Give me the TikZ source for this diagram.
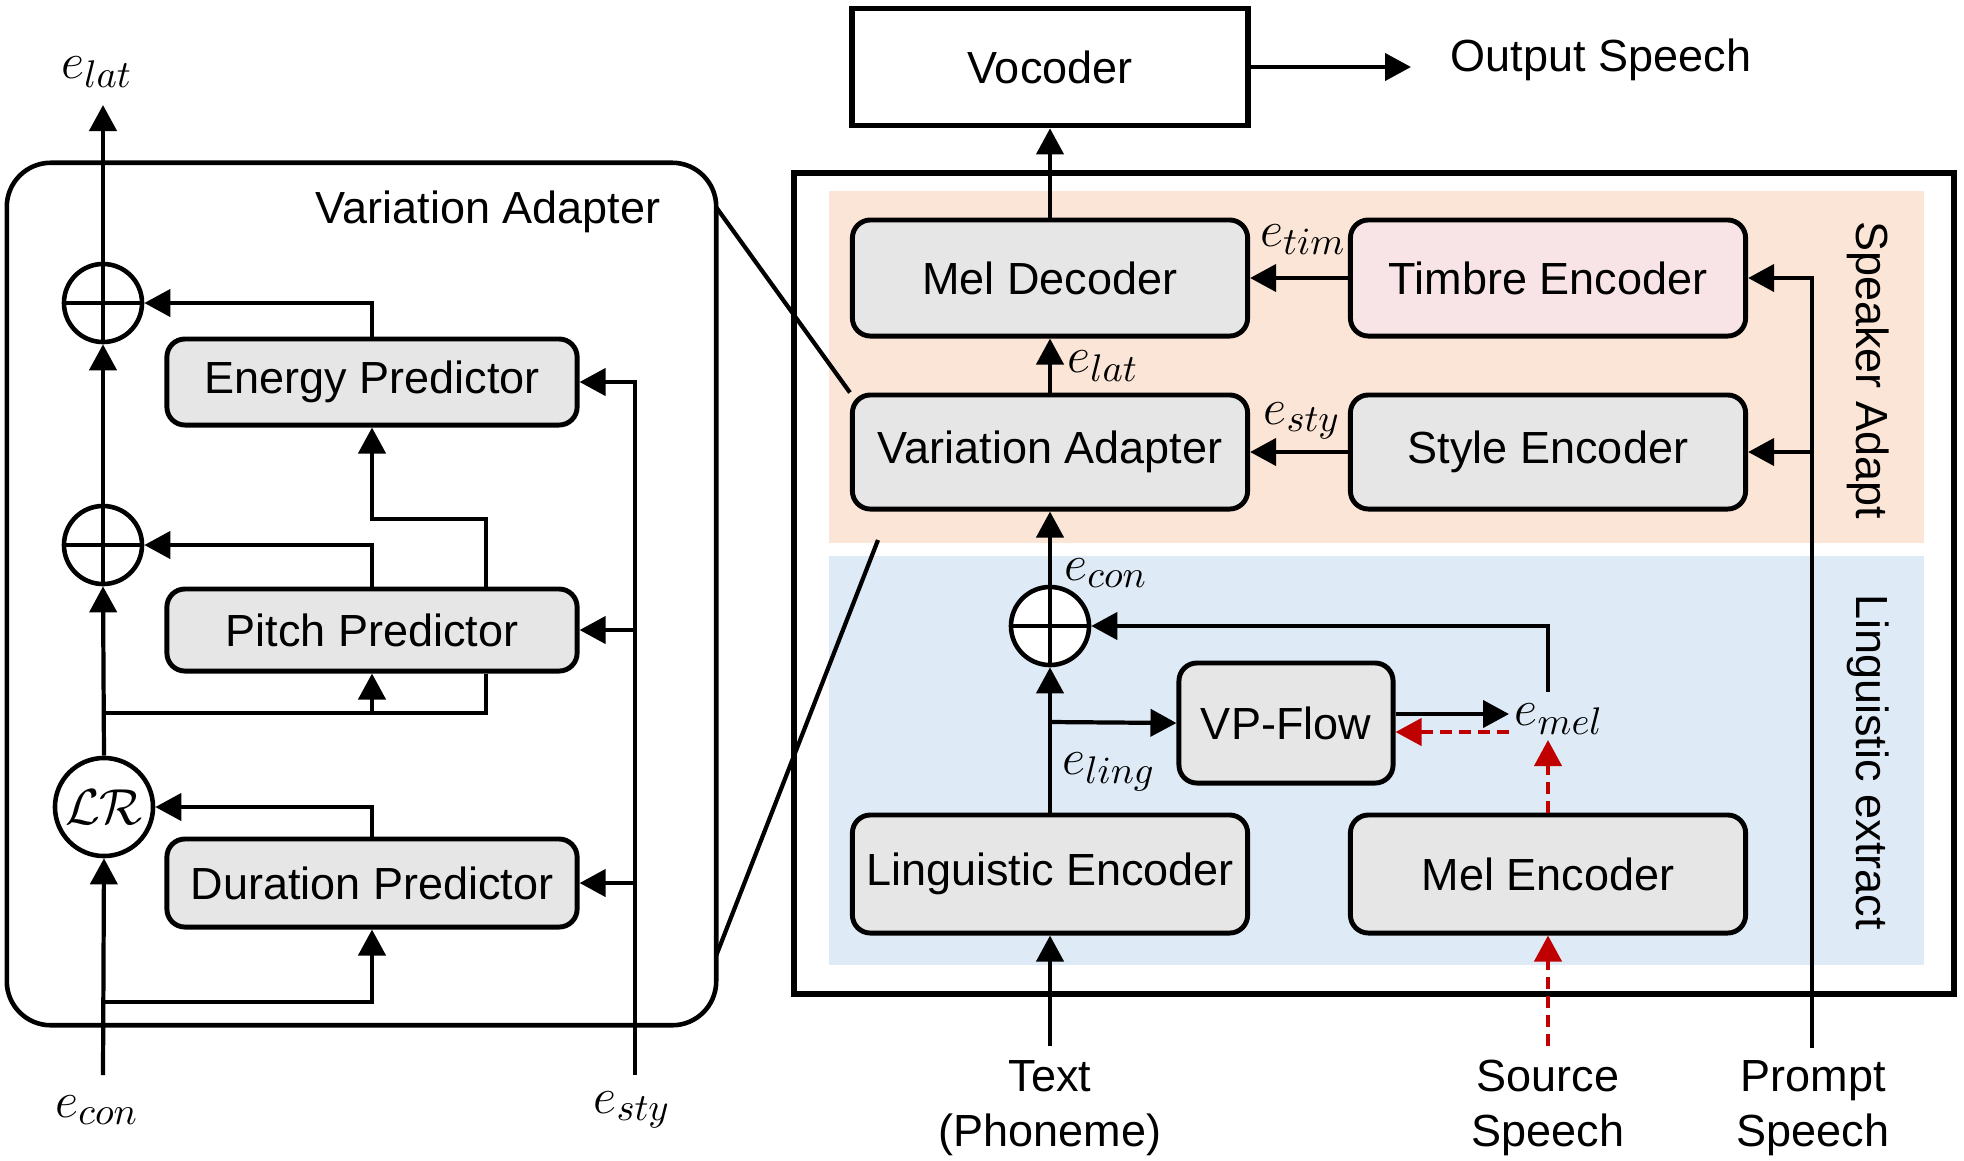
\documentclass[tikz,border=0pt]{standalone}
\usepackage{fontspec}
\setmainfont{Liberation Sans}
\usetikzlibrary{arrows.meta}
\definecolor{boxgray}{HTML}{E6E6E6}
\definecolor{spkbg}{HTML}{FBE5D6}
\definecolor{lingbg}{HTML}{DEEBF7}
\definecolor{timbrefill}{HTML}{F8E4E6}
\definecolor{darkred}{HTML}{C00000}
\tikzset{
  blk/.style={draw, line width=1.4pt, rounded corners=0.18cm, fill=boxgray, minimum width=3.95cm, minimum height=1.16cm, inner sep=0pt},
  pred/.style={blk, minimum width=4.1cm, minimum height=0.86cm},
  plusnode/.style={circle, draw, line width=1.3pt, fill=white, minimum size=0.78cm, inner sep=0pt,
    path picture={\draw[line width=1.3pt] (path picture bounding box.north) -- (path picture bounding box.south)
      (path picture bounding box.west) -- (path picture bounding box.east);}},
  arr/.style={line width=1.2pt, -{Triangle[length=0.26cm,width=0.27cm]}},
  con/.style={line width=1.2pt},
  redarr/.style={arr, darkred, dash pattern=on 0.12cm off 0.07cm},
  lbl/.style={inner sep=0pt},
  mlbl/.style={inner sep=0pt, font=\fontsize{15.5}{18}\selectfont}
}
\begin{document}
\begin{tikzpicture}[x=0.01cm, y=-0.01cm]\fontsize{12.8}{15.6}\selectfont
\useasboundingbox (0,0) rectangle (1964,1160);
\fill[white] (0,0) rectangle (1964,1160);
\fill[spkbg] (829,191) rectangle (1924,543);
\fill[lingbg] (829,556) rectangle (1924,965);
\draw[line width=1.7pt] (794,173) rectangle (1954,994);
\node[draw, line width=1.3pt, rounded corners=0.44cm, minimum width=7.09cm, minimum height=8.62cm] (vaframe) at (361.5,594) {};
\node[lbl] (vatitle) at (488,212) {Variation Adapter};
\node[pred] (energy) at (372,382) {Energy Predictor};
\node[pred, minimum height=0.82cm] (pitch) at (372,630) {Pitch Predictor};
\node[pred, minimum height=0.88cm] (dur) at (372,883) {Duration Predictor};
\node[plusnode] (plusA) at (103,303) {};
\node[plusnode] (plusB) at (103,545) {};
\node[circle, draw, line width=1.3pt, fill=white, minimum size=0.98cm, inner sep=0pt, font=\fontsize{14}{16}\selectfont] (lr) at (104,807) {$\mathcal{LR}$};
\node[mlbl] (latL) at (97,72) {$e_{lat}$};
\node[mlbl] (conL) at (97,1110) {$e_{con}$};
\node[mlbl] (styL) at (632,1110) {$e_{sty}$};
\coordinate (lat_out) at (103,105);
\coordinate (con_in) at (103,1075);
\coordinate (sty_in) at (635,1075);
\coordinate (b1) at (103,1002);
\coordinate (b2) at (103,713);
\coordinate (b2r) at (486,713);
\coordinate (c3) at (486,519);
\draw[arr] (con_in) -- (lr.south);
\draw[arr] (lr.north) -- (plusB.south);
\draw[arr] (plusB.north) -- (plusA.south);
\draw[arr] (plusA.north) -- (lat_out);
\draw[arr] (sty_in) |- (energy.east);
\draw[arr] (sty_in) |- (pitch.east);
\draw[arr] (sty_in) |- (dur.east);
\draw[arr] (b1) -| (dur.south);
\draw[arr] (dur.north) |- (lr.east);
\draw[con] (b2) -- (b2r) -- (b2r |- pitch.south);
\draw[arr] (b2 -| pitch.south) -- (pitch.south);
\draw[arr] (pitch.north) |- (plusB.east);
\draw[arr] (pitch.north -| c3) -- (c3) -| (energy.south);
\draw[arr] (energy.north) |- (plusA.east);
\node[draw, line width=1.6pt, fill=white, minimum width=3.96cm, minimum height=1.17cm] (voc) at (1050,67) {Vocoder};
\node[lbl] (outsp) at (1601,60) {Output Speech};
\coordinate (outtip) at (1411,67);
\draw[arr] (voc.east) -- (outtip);
\node[blk] (meldec) at (1050,278) {Mel Decoder};
\node[blk, fill=timbrefill] (timbre) at (1548,278) {Timbre Encoder};
\node[blk, minimum height=1.14cm] (varad) at (1050,452) {Variation Adapter};
\node[blk, minimum height=1.14cm] (style) at (1548,452) {Style Encoder};
\node[plusnode] (plusC) at (1050,626) {};
\node[blk, minimum width=2.14cm, minimum height=1.2cm] (vpflow) at (1286,723) {VP-Flow};
\node[blk, minimum height=1.18cm] (ling) at (1050,874) {Linguistic Encoder};
\node[blk, minimum height=1.18cm] (melenc) at (1548,874) {Mel Encoder};
\node[lbl, rotate=-90] (spklbl) at (1868,370) {Speaker Adapt};
\node[lbl, rotate=-90] (linglbl) at (1868,762) {Linguistic extract};
\node[mlbl] (latR) at (1103,366) {$e_{lat}$};
\node[mlbl] (timR) at (1303,240) {$e_{tim}$};
\node[mlbl] (styR) at (1302,421) {$e_{sty}$};
\node[mlbl] (conR) at (1106,573) {$e_{con}$};
\node[mlbl] (lingR) at (1109,772) {$e_{ling}$};
\node[mlbl, anchor=west] (melR) at (1514,719) {$e_{mel}$};
\node[lbl, align=center] (txt) at (1050,1108) {Text\\(Phoneme)};
\node[lbl, align=center] (src) at (1548,1108) {Source\\Speech};
\node[lbl, align=center] (prm) at (1813,1108) {Prompt\\Speech};
\coordinate (txt_in) at (1050,1046);
\coordinate (src_in) at (1548,1046);
\coordinate (prm_in) at (1812,1048);
\coordinate (lingbr) at (1050,722);
\coordinate (emelA) at (1509,714);
\coordinate (emelB) at (1509,732);
\coordinate (melup) at (1548,740);
\coordinate (meltop) at (1548,692);
\draw[arr] (meldec.north) -- (voc.south);
\draw[arr] (varad.north) -- (meldec.south);
\draw[arr] (timbre.west) -- (meldec.east);
\draw[arr] (style.west) -- (varad.east);
\draw[arr] (plusC.north) -- (varad.south);
\draw[arr] (ling.north) -- (plusC.south);
\draw[arr] (lingbr) -- (vpflow.west);
\draw[arr] (vpflow.east |- emelA) -- (emelA);
\draw[redarr] (emelB) -- (vpflow.east |- emelB);
\draw[redarr] (melenc.north) -- (melup);
\draw[arr] (meltop) |- (plusC.east);
\draw[arr] (txt_in) -- (ling.south);
\draw[redarr] (src_in) -- (melenc.south);
\draw[arr] (prm_in) |- (timbre.east);
\draw[arr] (prm_in) |- (style.east);
\coordinate (zA) at (716,207);
\coordinate (zB) at (716,956);
\coordinate (zC) at (878,540);
\draw[con] (zA) -- (varad.north west);
\draw[con] (zB) -- (zC);
\end{tikzpicture}
\end{document}
